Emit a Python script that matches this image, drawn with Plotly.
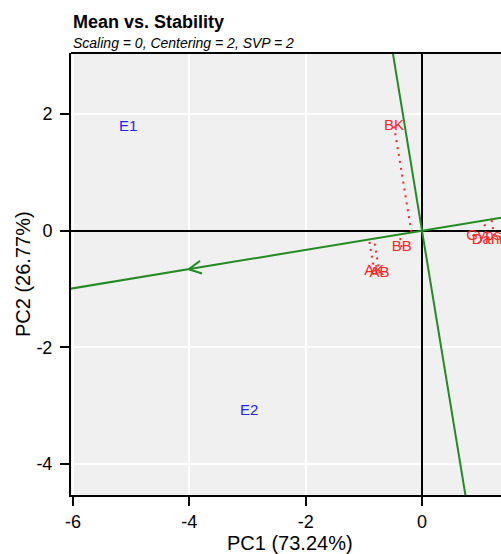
import numpy as np
import plotly.graph_objects as go

# ---- data ----
genotypes = ["BK", "BB", "AK", "AB", "Gypsum", "Dani"]
gen_pc1 = [-0.48, -0.35, -0.82, -0.73, 1.24, 1.12]
gen_pc2 = [1.79, -0.28, -0.70, -0.73, -0.09, -0.16]

environments = ["E1", "E2"]
env_pc1 = [-5.05, -2.97]
env_pc2 = [1.77, -3.09]

x_ticks = [-6, -4, -2, 0]
x_tick_labels = ["-6", "-4", "-2", "0"]
y_ticks = [2, 0, -2, -4]
y_tick_labels = ["2", "0", "-2", "-4"]

title = "Mean vs. Stability"
subtitle = "Scaling = 0, Centering = 2, SVP = 2"
x_title = "PC1 (73.24%)"
y_title = "PC2 (26.77%)"

# ---- derived geometry ----
avg = np.array([np.mean(env_pc1), np.mean(env_pc2)])
u = avg / np.linalg.norm(avg)           # AEC abscissa direction
perp = np.array([-u[1], u[0]])          # AEC ordinate direction
far = 20.0

GREEN = "#228B22"
RED = "#FF2424"
BLUE = "#2323FF"
FONT = "Liberation Sans, Arial"

fig = go.Figure()

# AEC abscissa
fig.add_trace(go.Scatter(x=[-far * u[0], far * u[0]], y=[-far * u[1], far * u[1]],
                         mode="lines", line=dict(color=GREEN, width=2),
                         hoverinfo="skip", showlegend=False))
# AEC ordinate
fig.add_trace(go.Scatter(x=[-far * perp[0], far * perp[0]], y=[-far * perp[1], far * perp[1]],
                         mode="lines", line=dict(color=GREEN, width=2),
                         hoverinfo="skip", showlegend=False))

# arrow head at average environment
back = -u
ang = np.deg2rad(27)
L = 0.24
def rot(v, a):
    return np.array([v[0] * np.cos(a) - v[1] * np.sin(a), v[0] * np.sin(a) + v[1] * np.cos(a)])
a1 = avg + L * rot(back, ang)
a2 = avg + L * rot(back, -ang)
fig.add_trace(go.Scatter(x=[a1[0], avg[0], a2[0]], y=[a1[1], avg[1], a2[1]],
                         mode="lines", line=dict(color=GREEN, width=2),
                         hoverinfo="skip", showlegend=False))

# dotted projections of genotypes onto the AEC abscissa
for gx, gy in zip(gen_pc1, gen_pc2):
    p = np.array([gx, gy])
    proj = np.dot(p, u) * u
    fig.add_trace(go.Scatter(x=[gx, proj[0]], y=[gy, proj[1]], mode="lines",
                             line=dict(color=RED, width=2, dash="2px,5px"),
                             hoverinfo="skip", showlegend=False))

# genotype labels
fig.add_trace(go.Scatter(x=gen_pc1, y=gen_pc2, mode="text", text=genotypes,
                         textposition="middle center",
                         textfont=dict(family=FONT, size=15, color=RED),
                         showlegend=False))
# environment labels
fig.add_trace(go.Scatter(x=env_pc1, y=env_pc2, mode="text", text=environments,
                         textposition="middle center",
                         textfont=dict(family=FONT, size=15, color=BLUE),
                         showlegend=False))

axis_common = dict(
    showgrid=True, gridcolor="white", gridwidth=1.5,
    zeroline=True, zerolinecolor="black", zerolinewidth=2,
    showline=True, linecolor="black", linewidth=2,
    ticks="outside", ticklen=9, tickwidth=2, tickcolor="black",
    tickfont=dict(family=FONT, size=18, color="black"),
)

fig.update_layout(
    width=501, height=554,
    margin=dict(l=71, r=0, t=53, b=59),
    paper_bgcolor="white", plot_bgcolor="#F0F0F0",
    xaxis=dict(range=[-6.034, 1.358], tickvals=x_ticks, ticktext=x_tick_labels, **axis_common),
    yaxis=dict(range=[-4.533, 3.048], tickvals=y_ticks, ticktext=y_tick_labels,
               ticklabelstandoff=4, **axis_common),
    font=dict(family=FONT, color="black"),
    shapes=[dict(type="line", xref="paper", yref="paper", x0=0, x1=1, y0=1, y1=1,
                 line=dict(color="black", width=2))],
    annotations=[
        dict(text="<b>" + title + "</b>", xref="paper", yref="paper", x=0, y=1.070,
             xanchor="left", yanchor="middle", showarrow=False,
             font=dict(family=FONT, size=18, color="black")),
        dict(text="<i>" + subtitle + "</i>", xref="paper", yref="paper", x=0, y=1.0226,
             xanchor="left", yanchor="middle", showarrow=False,
             font=dict(family=FONT, size=14, color="black")),
        dict(text=x_title, xref="paper", yref="paper", x=0.509, y=-0.1086,
             xanchor="center", yanchor="middle", showarrow=False,
             font=dict(family=FONT, size=20, color="black")),
        dict(text=y_title, xref="paper", yref="paper", x=-0.1116, y=0.5,
             xanchor="center", yanchor="middle", showarrow=False, textangle=-90,
             font=dict(family=FONT, size=20, color="black")),
    ],
)

fig.write_html("out.html", config={"displayModeBar": False},
               post_script="document.body.style.margin='0';document.body.style.overflow='hidden';")
